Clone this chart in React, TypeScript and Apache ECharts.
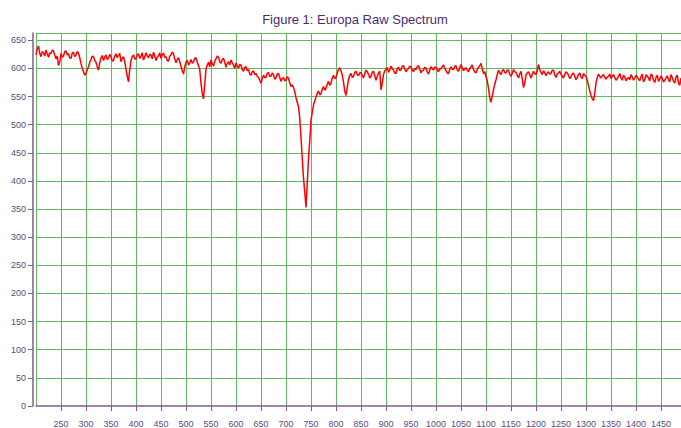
import React, { useEffect, useRef } from "react";
import * as echarts from "echarts";

const TITLE = "Figure 1: Europa Raw Spectrum";
const X_START = 200;
const X_STEP = 2.5;
const X_MIN = 200;
const X_MAX = 1490;
const Y_MIN = 0;
const Y_MAX = 663;
const Y_TICKS = [0, 50, 100, 150, 200, 250, 300, 350, 400, 450, 500, 550, 600, 650];

// counts, sampled every 2.5 units, one block per 50 units starting at the named value
const counts200 = [624, 635, 640, 627, 621, 630, 628, 622, 633, 626, 620, 628, 626, 633, 631, 624, 617, 622, 605, 612];
const counts250 = [627, 620, 622, 630, 631, 624, 626, 619, 618, 627, 629, 621, 624, 630, 627, 619, 609, 600, 594, 588];
const counts300 = [591, 598, 603, 611, 616, 622, 621, 614, 611, 603, 597, 610, 619, 623, 614, 620, 624, 616, 618, 625];
const counts350 = [621, 613, 614, 622, 626, 619, 623, 627, 612, 618, 621, 612, 599, 586, 576, 598, 614, 621, 624, 617];
const counts400 = [617, 624, 626, 618, 621, 628, 615, 621, 628, 622, 619, 625, 624, 617, 629, 622, 614, 620, 622, 628];
const counts450 = [618, 624, 627, 620, 621, 614, 613, 622, 624, 629, 626, 617, 610, 616, 619, 612, 604, 596, 590, 603];
const counts500 = [611, 615, 606, 610, 616, 609, 612, 618, 619, 611, 605, 598, 574, 555, 546, 572, 599, 606, 611, 603];
const counts550 = [615, 608, 604, 613, 617, 622, 620, 612, 609, 616, 618, 611, 602, 609, 612, 606, 615, 610, 606, 600];
const counts600 = [610, 604, 601, 607, 606, 598, 595, 602, 603, 596, 598, 590, 588, 594, 596, 589, 591, 586, 584, 579];
const counts650 = [574, 582, 588, 584, 584, 591, 593, 586, 586, 592, 589, 581, 583, 590, 591, 584, 577, 582, 584, 578];
const counts700 = [579, 585, 583, 574, 568, 571, 566, 559, 548, 540, 532, 512, 478, 440, 405, 380, 353, 395, 440, 472];
const counts750 = [508, 522, 535, 542, 549, 556, 560, 553, 555, 563, 568, 561, 565, 572, 577, 570, 574, 583, 588, 582];
const counts800 = [584, 592, 598, 601, 596, 588, 576, 560, 552, 566, 580, 588, 591, 584, 586, 593, 595, 589, 587, 592];
const counts850 = [593, 587, 583, 591, 597, 594, 590, 583, 586, 593, 595, 588, 579, 586, 592, 595, 562, 574, 589, 596];
const counts900 = [598, 602, 593, 597, 604, 600, 597, 592, 591, 599, 602, 596, 598, 604, 605, 599, 594, 598, 600, 604];
const counts950 = [603, 597, 594, 600, 598, 603, 605, 599, 592, 596, 597, 602, 601, 594, 590, 597, 603, 600, 597, 602];
const counts1000 = [602, 598, 594, 600, 599, 604, 606, 600, 596, 592, 591, 598, 603, 599, 598, 604, 605, 597, 595, 601];
const counts1050 = [607, 601, 596, 599, 601, 597, 594, 600, 603, 606, 598, 594, 592, 598, 602, 605, 609, 600, 591, 594];
const counts1100 = [586, 578, 565, 548, 540, 551, 562, 572, 580, 589, 597, 592, 589, 596, 598, 593, 592, 597, 597, 590];
const counts1150 = [586, 591, 598, 594, 593, 588, 583, 590, 595, 582, 566, 574, 588, 592, 594, 589, 583, 589, 595, 591];
const counts1200 = [589, 596, 607, 598, 593, 589, 596, 592, 587, 592, 594, 590, 591, 597, 597, 589, 584, 590, 592, 595];
const counts1250 = [590, 586, 583, 590, 594, 592, 588, 582, 585, 590, 592, 586, 580, 584, 589, 592, 585, 582, 591, 588];
const counts1300 = [586, 579, 570, 560, 552, 546, 543, 556, 574, 584, 590, 586, 583, 587, 589, 584, 581, 585, 586, 590];
const counts1350 = [582, 586, 589, 584, 579, 582, 586, 591, 583, 579, 588, 585, 578, 582, 584, 580, 589, 585, 579, 583];
const counts1400 = [588, 585, 581, 578, 585, 590, 576, 580, 589, 586, 583, 578, 590, 588, 579, 575, 584, 588, 577, 581];
const counts1450 = [587, 583, 576, 579, 583, 587, 580, 576, 589, 584, 577, 574, 585, 588, 574, 570, 583];

const allCounts = [
  ...counts200, ...counts250, ...counts300, ...counts350, ...counts400,
  ...counts450, ...counts500, ...counts550, ...counts600, ...counts650,
  ...counts700, ...counts750, ...counts800, ...counts850, ...counts900,
  ...counts950, ...counts1000, ...counts1050, ...counts1100, ...counts1150,
  ...counts1200, ...counts1250, ...counts1300, ...counts1350, ...counts1400,
  ...counts1450,
];

const GREEN = "#62b862";
const PURPLE_AXIS = "#7d5e8e";
const LABEL = "#5b4a7c";

export default function App() {
  const ref = useRef<HTMLDivElement>(null);
  useEffect(() => {
    if (!ref.current) return;
    const chart = echarts.init(ref.current, undefined, { renderer: "svg" });
    const data = allCounts.map((v, i) => [X_START + i * X_STEP, v]);
    const yLineColors = [...Y_TICKS, Y_MAX].map((_, i) => (i === 0 ? "rgba(0,0,0,0)" : GREEN));
    chart.setOption({
      animation: false,
      backgroundColor: "#ffffff",
      title: {
        text: TITLE,
        left: 350,
        textAlign: "center",
        top: 8,
        textStyle: {
          fontFamily: "Liberation Sans",
          fontSize: 13,
          fontWeight: "normal",
          color: "#4b2c72",
        },
      },
      grid: { left: 36, right: 0, top: 33, bottom: 22, containLabel: false },
      xAxis: {
        type: "value",
        min: X_MIN,
        max: X_MAX,
        interval: 50,
        offset: 6,
        axisLine: { show: true, lineStyle: { color: PURPLE_AXIS, width: 1.5 } },
        axisTick: { show: true, length: 5, lineStyle: { color: PURPLE_AXIS } },
        axisLabel: {
          showMinLabel: false,
          showMaxLabel: false,
          margin: 7,
          fontSize: 9,
          fontFamily: "Liberation Sans",
          color: LABEL,
          formatter: (v: number) => String(v),
        },
        splitLine: { show: true, lineStyle: { color: GREEN, width: 1 } },
      },
      yAxis: {
        type: "value",
        min: Y_MIN,
        max: Y_MAX,
        interval: 50,
        offset: 3,
        axisLine: { show: true, lineStyle: { color: PURPLE_AXIS, width: 1.5 } },
        axisTick: { show: true, length: 5, lineStyle: { color: PURPLE_AXIS } },
        axisLabel: {
          showMaxLabel: false,
          margin: 7,
          fontSize: 9,
          fontFamily: "Liberation Sans",
          color: LABEL,
          formatter: (v: number) => String(v),
        },
        splitLine: { show: true, lineStyle: { color: yLineColors, width: 1 } },
      },
      series: [
        {
          type: "line",
          data,
          showSymbol: false,
          symbol: "none",
          lineStyle: { color: "#ff0000", width: 1.5 },
          clip: true,
        },
      ],
    });
    return () => chart.dispose();
  }, []);
  return (
    <div
      ref={ref}
      style={{ position: "fixed", left: 0, top: 0, width: 681, height: 428 }}
    />
  );
}
